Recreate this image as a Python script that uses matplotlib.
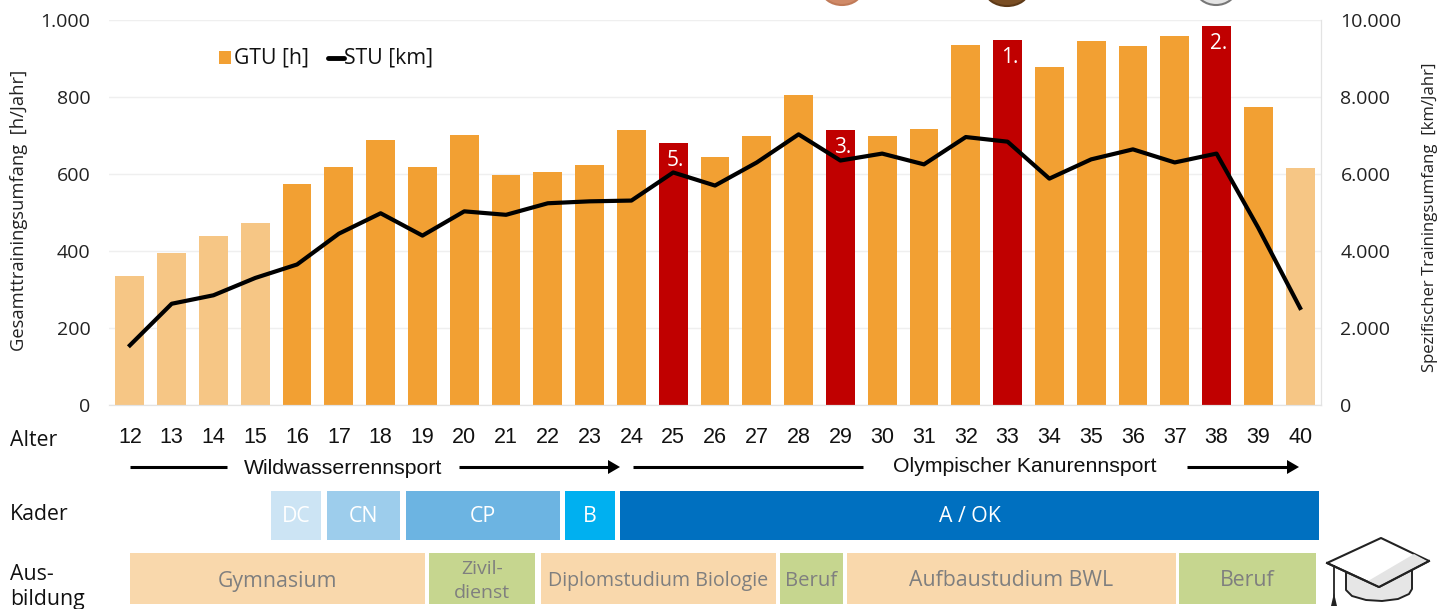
import matplotlib
matplotlib.use("Agg")
import matplotlib.pyplot as plt
from matplotlib.patches import Rectangle, Polygon, Ellipse
from matplotlib.ticker import FuncFormatter

ages = list(range(12, 41))
gtu = [336, 395, 440, 472, 574, 618, 688, 618, 701, 598, 606, 624, 715, 680, 645,
       700, 806, 715, 700, 718, 936, 948, 878, 945, 933, 958, 985, 775, 615]
stu = [1550, 2630, 2850, 3300, 3650, 4450, 4980, 4400, 5030, 4940, 5240, 5290, 5310,
       6040, 5700, 6300, 7030, 6350, 6530, 6250, 6960, 6840, 5880, 6380, 6640, 6300,
       6530, 4600, 2520]
placings = {25: "5.", 29: "3.", 33: "1.", 38: "2."}
light_ages = [12, 13, 14, 15, 40]

ORANGE, LIGHT, RED = "#F2A033", "#F6C685", "#C00000"
W, H = 1453, 609
FS = 15.3
plt.rcParams["font.family"] = ["Open Sans", "DejaVu Sans"]

fig = plt.figure(figsize=(W / 100, H / 100), dpi=100)
ax = fig.add_axes([109 / W, 1 - 405 / H, (1321 - 109) / W, (405 - 20) / H])
colors = [RED if a in placings else LIGHT if a in light_ages else ORANGE for a in ages]
ax.bar(ages, gtu, width=0.69, color=colors, zorder=2, label="GTU [h]")
ax.set_xlim(11.5, 40.5)
ax.set_ylim(0, 1000)
ax.set_yticks(range(0, 1001, 200))
fmt = FuncFormatter(lambda v, _: f"{int(v):,}".replace(",", "."))
ax.yaxis.set_major_formatter(fmt)
ax.grid(axis="y", color="#EFEFEF", lw=1, zorder=0)
ax.set_axisbelow(True)
ax.set_xticks(ages)
ax.set_xticklabels([str(a) for a in ages], fontsize=15.5, family="Liberation Sans", color="#111111")
ax.tick_params(axis="x", length=0, pad=16)
ax.tick_params(axis="y", length=0, labelsize=14, pad=13.5, labelcolor="#222222")
for s in ("top", "left"):
    ax.spines[s].set_visible(False)
for s in ("bottom", "right"):
    ax.spines[s].set_color("#E3E3E3")
ax.set_ylabel("Gesamttrainingsumfang  [h/Jahr]", fontsize=13.2, color="#222222")
ax.yaxis.set_label_coords(-0.067, 0.505)

ax2 = ax.twinx()
ax2.plot(ages, stu, color="black", lw=3, zorder=5, label="STU [km]", solid_joinstyle="round")
ax2.set_ylim(0, 10000)
ax2.set_yticks(range(0, 10001, 2000))
ax2.yaxis.set_major_formatter(fmt)
ax2.tick_params(axis="y", length=0, labelsize=14, pad=14, labelcolor="#222222")
for s in ("top", "left"):
    ax2.spines[s].set_visible(False)
for s in ("bottom", "right"):
    ax2.spines[s].set_color("#E3E3E3")
ax2.set_ylabel("Spezifischer Trainingsumfang  [km/Jahr]", fontsize=12.1, color="#222222")
ax2.yaxis.set_label_coords(1.083, 0.487)

for a, label in placings.items():
    ax.annotate(label, (a, gtu[a - 12]), xytext=(1.5, -5), textcoords="offset points",
                ha="center", va="top", color="white", fontsize=15, zorder=6,
                annotation_clip=False)

# Drawing layer in pixel coordinates for everything outside the plot
ov = fig.add_axes([0, 0, 1, 1], zorder=10)
ov.set_xlim(0, W)
ov.set_ylim(H, 0)
ov.axis("off")

# Legend
ov.add_patch(Rectangle((219, 51), 12, 13, color=ORANGE, lw=0))
ov.text(234, 58, "GTU [h]", fontsize=FS, va="center", color="#111111")
ov.plot([328, 344], [58, 58], color="black", lw=3.5, solid_capstyle="round")
ov.text(344, 58, "STU [km]", fontsize=FS, va="center", color="#111111")

# Row labels
for txt, x, y in [("Alter", 10, 440), ("Kader", 10, 514), ("Aus-", 10, 574), ("bildung", 10, 599)]:
    ov.text(x, y, txt, fontsize=FS, va="center", color="#111111")


def arrow(x0, x1, y, head=True):
    ov.plot([x0, x1], [y, y], color="black", lw=2.2, solid_capstyle="butt")
    if head:
        ov.add_patch(Polygon([(x1 - 1, y - 7), (x1 + 11, y), (x1 - 1, y + 7)], color="black", lw=0))


arrow(130, 227, 467, head=False)
arrow(459, 609, 467)
arrow(633, 863, 467, head=False)
arrow(1187, 1288, 467)
ov.text(343, 468, "Wildwasserrennsport", fontsize=FS, family="Liberation Sans", ha="center", va="center", color="#111111")
ov.text(1025, 466, "Olympischer Kanurennsport", fontsize=FS, family="Liberation Sans", ha="center", va="center", color="#111111")

# Kader row
kader = [("DC", 271, 321, "#CCE4F4"), ("CN", 327, 400, "#9DCDEC"), ("CP", 406, 560, "#6CB4E2"),
         ("B", 565, 615, "#00B0F0"), ("A / OK", 620, 1319, "#0070C0")]
for label, x0, x1, c in kader:
    ov.add_patch(Rectangle((x0, 491), x1 - x0, 49, color=c, lw=0))
    ov.text((x0 + x1) / 2, 517, label, color="white", fontsize=FS, ha="center", va="center")

# Ausbildung row
PEACH, GREEN, GREY = "#F9D8AC", "#C6D68F", "#7F7F7F"
edu = [("Gymnasium", 130, 425, PEACH, FS), ("Zivil-\ndienst", 429, 535, GREEN, 14),
       ("Diplomstudium Biologie", 541, 776, PEACH, 14.2), ("Beruf", 780, 843, GREEN, 14.6),
       ("Aufbaustudium BWL", 847, 1176, PEACH, FS), ("Beruf", 1179, 1316, GREEN, FS)]
for label, x0, x1, c, fs in edu:
    ov.add_patch(Rectangle((x0, 553), x1 - x0, 51, color=c, lw=0))
    ov.text((x0 + x1) / 2, 581, label, color=GREY, fontsize=fs, ha="center", va="center", linespacing=1.4)

# Medals cut off by the top edge
for x, y, wd, ht, c, e in [(842, -10, 40, 30, "#D08A68", "#C07A58"), (1007, -10, 44, 32, "#7A4E24", "#5E3A18"),
                           (1216, -11, 40, 32, "#E4E4E4", "#777777")]:
    ov.add_patch(Ellipse((x, y), wd, ht, facecolor=c, edgecolor=e, lw=1.5))

# Graduation cap
INK = "#222222"
ov.add_patch(Polygon([(1346, 566), (1346, 590), (1352, 596), (1366, 600), (1382, 601), (1398, 599),
                      (1409, 594), (1412, 589), (1412, 566)],
                     closed=True, fc="#E6E6E6", ec=INK, lw=1.4, joinstyle="round"))
ov.add_patch(Polygon([(1381, 538), (1327, 563), (1379, 587), (1429, 561)],
                     closed=True, fc="white", ec=INK, lw=1.5, joinstyle="round"))
ov.add_patch(Polygon([(1414, 554), (1427, 561), (1379, 586), (1368, 581)], closed=True, fc="#E4E4E4", lw=0))
ov.plot([1327, 1379, 1429], [563, 587, 561], color=INK, lw=1.5)
ov.plot([1334, 1334], [566, 596], color=INK, lw=1.3)
ov.add_patch(Polygon([(1334, 593), (1337, 606), (1331, 606)], closed=True, color=INK, lw=0))

fig.savefig("out.png", dpi=100)
